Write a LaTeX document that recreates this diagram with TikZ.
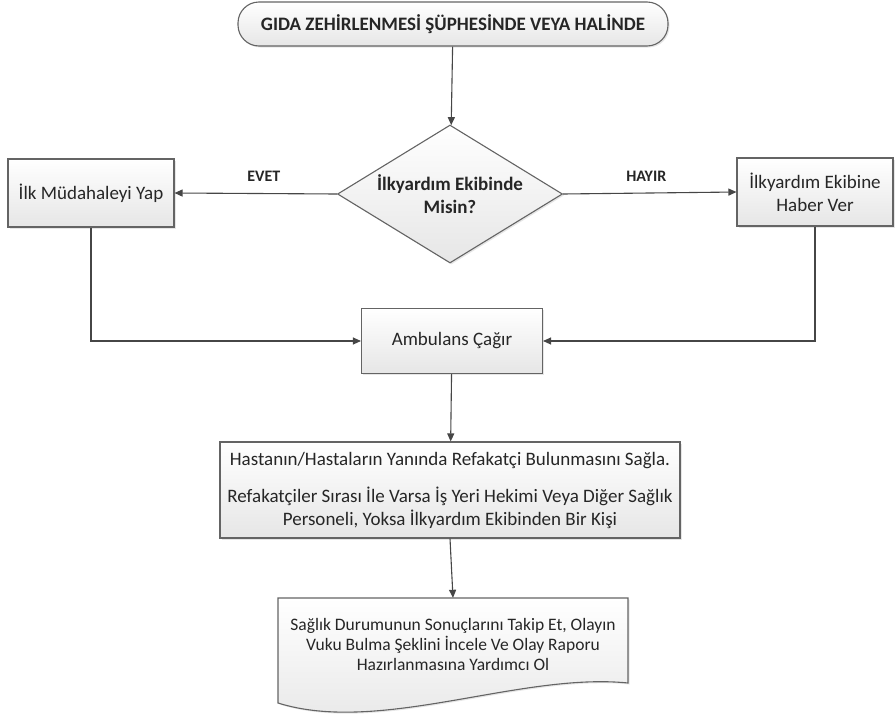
\documentclass[tikz,border=0pt]{standalone}
\usepackage{fontspec}
\setmainfont{Carlito}
\usetikzlibrary{shapes.geometric,arrows.meta,shadows}
\definecolor{edgec}{RGB}{100,100,100}
\definecolor{linec}{RGB}{70,70,70}
\definecolor{fillb}{RGB}{230,230,230}
\begin{document}
\begin{tikzpicture}[x=1pt,y=-1pt,
  boxstyle/.style={draw=edgec,line width=1.1pt,top color=white,bottom color=fillb,
    align=center,font=\fontsize{19}{23}\selectfont,inner sep=2pt,text=black!85,
    drop shadow={shadow xshift=1.5pt,shadow yshift=-1.5pt,opacity=0.2,fill=gray}},
  conn/.style={draw=linec,line width=1.1pt,-{Triangle[length=8pt,width=7pt]}},
  lbl/.style={font=\fontsize{16}{18}\selectfont\bfseries,text=black!85}]
\useasboundingbox (0,0) rectangle (895,715);
\node[boxstyle,rounded corners=21pt,minimum width=430pt,minimum height=44pt,
  font=\fontsize{19}{22}\selectfont\bfseries] (start) at (453,24) {GIDA ZEHİRLENMESİ ŞÜPHESİNDE VEYA HALİNDE};
\node[boxstyle,diamond,minimum width=225pt,minimum height=138pt,inner sep=0pt] (q) at (450,194) {};
\node[align=center,font=\fontsize{19}{23}\selectfont\bfseries,text=black!85,inner sep=0pt]
  (qtext) at (q.center) {İlkyardım Ekibinde\\Misin?};
\node[boxstyle,minimum width=166pt,minimum height=68pt] (yes) at (91,193) {İlk Müdahaleyi Yap};
\node[boxstyle,minimum width=156pt,minimum height=68pt] (no) at (815,192) {İlkyardım Ekibine\\Haber Ver};
\node[boxstyle,minimum width=181pt,minimum height=65pt] (amb) at (452,341) {Ambulans Çağır};
\node[boxstyle,minimum width=460pt,minimum height=96pt] (ref) at (450,490)
  {Hastanın/Hastaların Yanında Refakatçi Bulunmasını Sağla.\\[14pt]
   Refakatçiler Sırası İle Varsa İş Yeri Hekimi Veya Diğer Sağlık\\
   Personeli, Yoksa İlkyardım Ekibinden Bir Kişi};
\coordinate (d1) at (278,598);
\coordinate (d2) at (628,598);
\coordinate (d3) at (628,683);
\coordinate (d4) at (278,703);
\path[draw=edgec,line width=1.1pt,top color=white,bottom color=fillb,
    drop shadow={shadow xshift=1.5pt,shadow yshift=-1.5pt,opacity=0.2,fill=gray}]
  (d1) -- (d2) -- (d3) .. controls (520,672) and (380,735) .. (d4) -- cycle;
\node[align=center,font=\fontsize{17.5}{20}\selectfont,text=black!85,minimum width=350pt,minimum height=92pt,inner sep=0pt]
  (doc) at (453,644) {Sağlık Durumunun Sonuçlarını Takip Et, Olayın\\
   Vuku Bulma Şeklini İncele Ve Olay Raporu\\
   Hazırlanmasına Yardımcı Ol};
\draw[conn] (start) -- (q);
\draw[conn] (q.west) -- node[lbl,above=8pt,pos=0.45]{EVET} (yes.east);
\draw[conn] (q.east) -- node[lbl,above=8pt,pos=0.48]{HAYIR} (no.west);
\draw[conn] (yes.south) |- (amb.west);
\draw[conn] (no.south) |- (amb.east);
\draw[conn] (amb) -- (ref);
\draw[conn] (ref.south) -- (doc.north);
\end{tikzpicture}
\end{document}
